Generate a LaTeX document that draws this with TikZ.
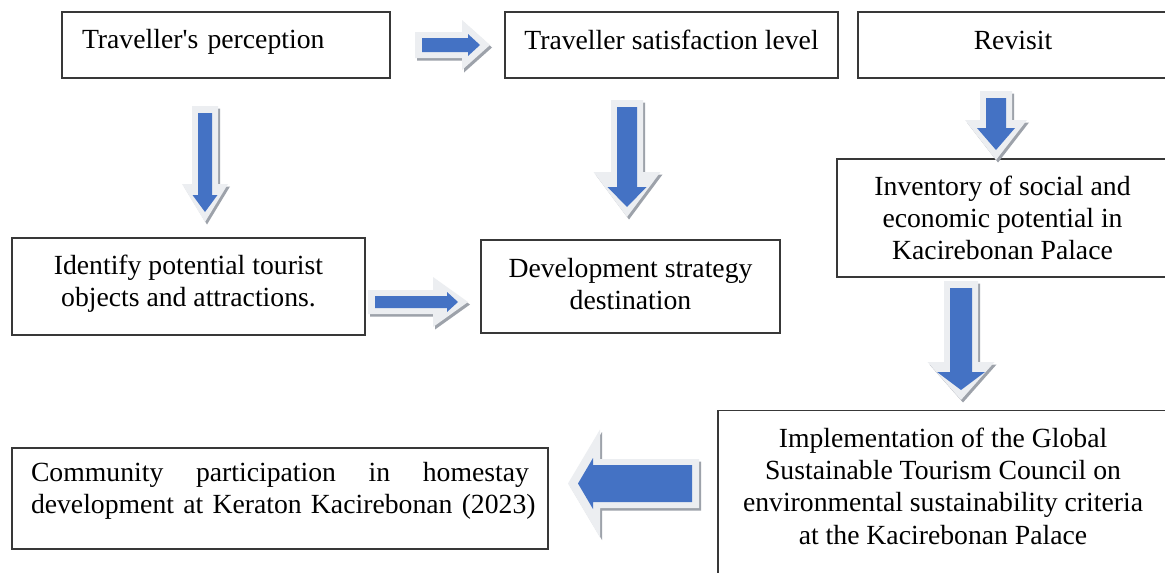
\documentclass[tikz,border=0pt]{standalone}
\usepackage{fontspec}
\setmainfont{Liberation Serif}[Ligatures=TeXOff]
\usepackage{tikz}
\usetikzlibrary{positioning}
\definecolor{ArrowBlue}{HTML}{4472C4}
\definecolor{GlowGray}{HTML}{ECEEF1}
\definecolor{ShadeGray}{HTML}{9DA2AA}
\tikzset{
	box/.style={ % Egenskaber for hver boks
			draw=black!78,
			line width=1.4pt,
			inner sep=0pt,
			font=\fontsize{27.7}{32.3}\selectfont
		}
}
% fat block arrow: x, y, angle, length, shaft half, head half, head length, glow head half, glow head length
\newcommand{\fatarrow}[9]{%
	\begin{scope}[shift={(#1+2,#2+2.5)}, rotate=#3]
		\fill[ShadeGray] (-#4/2-7,-#5-6) -- (#4/2+10-#9,-#5-6) -- (#4/2+10-#9,-#8) -- (#4/2+10,0)
			-- (#4/2+10-#9,#8) -- (#4/2+10-#9,#5+6) -- (-#4/2-7,#5+6) -- cycle;
	\end{scope}
	\begin{scope}[shift={(#1,#2)}, rotate=#3]
		\fill[GlowGray] (-#4/2-7,-#5-6) -- (#4/2+10-#9,-#5-6) -- (#4/2+10-#9,-#8) -- (#4/2+10,0)
			-- (#4/2+10-#9,#8) -- (#4/2+10-#9,#5+6) -- (-#4/2-7,#5+6) -- cycle;
		\fill[ArrowBlue] (-#4/2,-#5) -- (#4/2-#7,-#5) -- (#4/2-#7,-#6) -- (#4/2,0)
			-- (#4/2-#7,#6) -- (#4/2-#7,#5) -- (-#4/2,#5) -- cycle;
	\end{scope}}

\begin{document}
\begin{tikzpicture}[x=1pt, y=-1pt]
	\path[fill=white, use as bounding box] (0,0) rectangle (1165,573);

	% Boxes
	\node[box, minimum width=328, minimum height=66, text width=288, text depth=12pt, align=left] (perc) at (226,45) {Traveller's perception};
	\node[box, minimum width=333, minimum height=66, text depth=10pt] (sat) at (671.5,45) {Traveller satisfaction level};
	\node[box, minimum width=310, minimum height=66, text depth=10pt] (revisit) at (1013,45) {Revisit};
	\node[box, minimum width=331, minimum height=118, align=center] (inv) at (1002.5,218) {Inventory of social and\\economic potential in\\Kacirebonan Palace};
	\node[box, minimum width=353, minimum height=97, text depth=11pt, align=center] (ident) at (188.5,286.5) {Identify potential tourist\\objects and attractions.};
	\node[box, minimum width=299, minimum height=93, text depth=5pt, align=center] (dev) at (630.5,286.5) {Development strategy\\destination};
	\node[box, anchor=north, minimum width=450, inner ysep=17pt, text depth=70pt, align=center] (impl) at (943,410) {Implementation of the Global\\Sustainable Tourism Council on\\environmental sustainability criteria\\at the Kacirebonan Palace};
	\node[box, minimum width=536, minimum height=101, text width=498, text depth=53pt, align=left] (comm) at (280,498.5) {\hbox to 498pt{Community\hfill participation\hfill in\hfill homestay}\\\hbox to 497pt{development at Keraton Kacirebonan (2023)}};

	% Arrows
	\fatarrow{451}{45}{0}{58}{7}{11}{12}{25}{28}
	\fatarrow{205}{162.5}{-90}{99}{7}{12.5}{17}{23}{38}
	\fatarrow{627}{157}{-90}{100}{10}{19.5}{20}{33.5}{45}
	\fatarrow{996}{124}{-90}{52}{10}{19}{22}{31}{40}
	\fatarrow{416.5}{302}{0}{83}{6}{10}{11}{25}{35}
	\fatarrow{961}{339}{-90}{102}{11}{24}{18}{33.5}{38}
	\fatarrow{635}{483.5}{180}{114}{18.5}{25.5}{15}{54}{32}
\end{tikzpicture}
\end{document}
